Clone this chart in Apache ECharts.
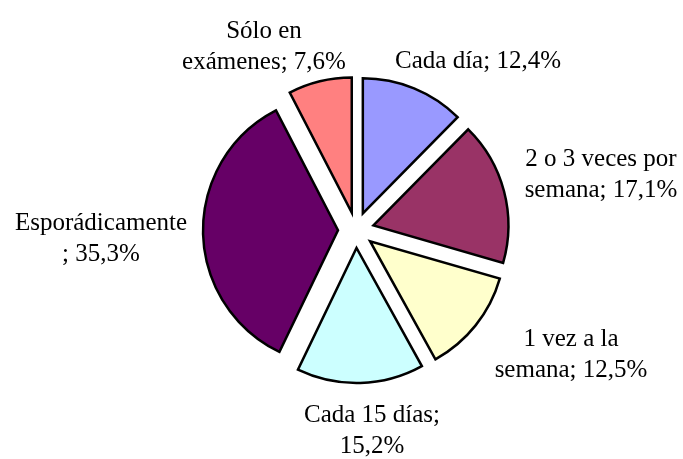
<!DOCTYPE html>
<html><head><meta charset="utf-8">
<script src="https://cdn.jsdelivr.net/npm/echarts@6/dist/echarts.min.js"></script>
<style>html,body{margin:0;padding:0;background:#fff}#c{width:683px;height:459px}</style>
</head><body><div id="c"></div>
<script>
const categories = ['Cada día', '2 o 3 veces por semana', '1 vez a la semana', 'Cada 15 días', 'Esporádicamente', 'Sólo en exámenes'];
const values = [12.4, 17.1, 12.5, 15.2, 35.3, 7.6];
const nameLines = ['Cada día', '2 o 3 veces por\nsemana', '1 vez a la\nsemana', 'Cada 15 días', 'Esporádicamente\n', 'Sólo en\nexámenes'];
const separators = ['; ', '; ', '; ', ';\n', '; ', '; '];
const colors = ['#9999FF', '#993366', '#FFFFCC', '#CCFFFF', '#660066', '#FF8080'];
const labelAnchors = [[478, 61], [601, 175], [571, 355], [372, 431], [101, 239], [264, 47]];

const fmt = v => v.toFixed(1).replace('.', ',') + '%';
const labelTexts = categories.map((c, i) => nameLines[i] + separators[i] + fmt(values[i]));

const chart = echarts.init(document.getElementById('c'), null, {renderer: 'canvas'});
chart.setOption({
  animation: false,
  backgroundColor: '#fff',
  graphic: labelTexts.map((t, i) => ({
    type: 'text',
    x: labelAnchors[i][0],
    y: labelAnchors[i][1],
    silent: true,
    style: {
      text: t,
      font: '25px "Liberation Serif"',
      lineHeight: 31,
      fill: '#000',
      align: 'center',
      verticalAlign: 'middle'
    }
  })),
  series: [{
    type: 'pie',
    center: [356, 230],
    radius: 135,
    startAngle: 90,
    clockwise: true,
    selectedMode: 'multiple',
    selectedOffset: 18,
    avoidLabelOverlap: false,
    data: categories.map((c, i) => ({name: c, value: values[i], selected: true, itemStyle: {color: colors[i]}})),
    itemStyle: {borderColor: '#000', borderWidth: 2.5, borderJoin: 'miter'},
    label: {show: false},
    labelLine: {show: false},
    emphasis: {disabled: true},
    select: {itemStyle: {borderColor: '#000', borderWidth: 2.5}}
  }]
});
</script>
</body></html>
